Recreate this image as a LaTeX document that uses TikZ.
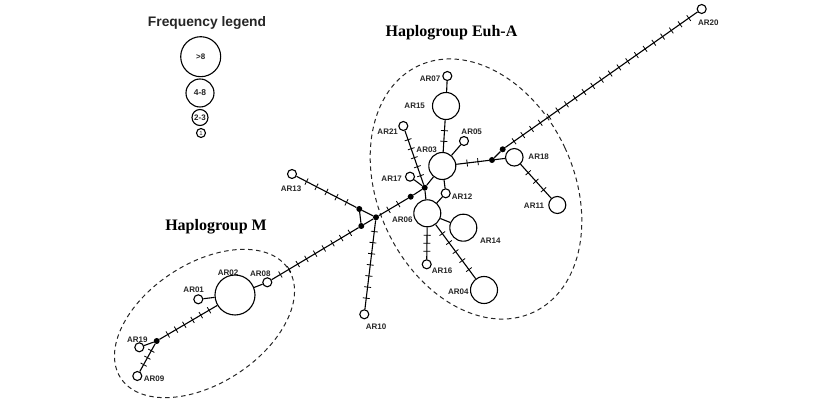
\documentclass[tikz,border=0pt]{standalone}
\usepackage{fontspec}
\setmainfont{Liberation Serif}
\newfontfamily\arialfont{Liberation Sans}
\usetikzlibrary{decorations.markings}

\tikzset{
  hap/.style={circle, draw, line width=1.1pt, fill=white, inner sep=0pt, minimum size=#1},
  hap/.default=9pt,
  mv/.style={circle, fill=black, inner sep=0pt, minimum size=6pt},
  lab/.style={font=\arialfont\bfseries\fontsize{8}{9}\selectfont, text=black!85, inner sep=0pt},
  link/.style={line width=1.1pt},
  mut/.style={postaction={decorate, decoration={markings,
      mark=between positions 1/(#1+1) and #1/(#1+1)+0.001 step 1/(#1+1)
      with {\draw[line width=0.8pt] (0,-3.5pt) -- (0,3.5pt);}}}},
  grp/.style={dash pattern=on 4.5pt off 3.5pt, line width=1pt, black!85},
}

\begin{document}
\begin{tikzpicture}[x=1pt, y=-1pt]
\useasboundingbox (0,0) rectangle (820,411);

% groups
\draw[grp, rotate around={25:(476,189)}] (476,189) ellipse [x radius=98, y radius=136];
\draw[grp, rotate around={33:(204.5,323.5)}] (204.5,323.5) ellipse [x radius=100, y radius=60];
\node[font=\bfseries\fontsize{16}{18}\selectfont] (titleA) at (451.5,33) {Haplogroup Euh-A};
\node[font=\bfseries\fontsize{16}{18}\selectfont] (titleM) at (216,227) {Haplogroup M};

% Frequency legend
\node[font=\arialfont\bfseries\fontsize{13.8}{16}\selectfont, text=black!85] (legtitle) at (207,23) {Frequency legend};
\node[hap=40pt, lab, font=\arialfont\bfseries\fontsize{8}{9}\selectfont] (leg1) at (200.7,56.7) {>8};
\node[hap=28pt, lab, font=\arialfont\bfseries\fontsize{8.5}{9}\selectfont] (leg2) at (200,93) {4-8};
\node[hap=16pt, lab, font=\arialfont\bfseries\fontsize{8}{9}\selectfont] (leg3) at (200,117.5) {2-3};
\node[hap=9pt, lab, font=\arialfont\fontsize{6}{6}\selectfont] (leg4) at (201,133) {1};

% haplotypes
\node[hap] (ar01) at (198.3,299.3) {};
\node[hap=40pt] (ar02) at (235,295) {};
\node[hap=27pt] (ar03) at (442.3,166) {};
\node[hap=27pt] (ar04) at (484,290) {};
\node[hap] (ar05) at (464,141) {};
\node[hap=27pt] (ar06) at (427.3,213.3) {};
\node[hap] (ar07) at (447.3,76) {};
\node[hap] (ar08) at (267.3,282.3) {};
\node[hap] (ar09) at (137.3,376) {};
\node[hap] (ar10) at (364.3,314.3) {};
\node[hap=17pt] (ar11) at (557.3,205) {};
\node[hap] (ar12) at (445.7,193.3) {};
\node[hap] (ar13) at (292,174) {};
\node[hap=27pt] (ar14) at (463.3,227.7) {};
\node[hap=27pt] (ar15) at (446,106) {};
\node[hap] (ar16) at (426.7,264.3) {};
\node[hap] (ar17) at (410,176.7) {};
\node[hap=17.5pt] (ar18) at (514.3,157.3) {};
\node[hap] (ar19) at (139.3,347.3) {};
\node[hap] (ar20) at (701.7,9) {};
\node[hap] (ar21) at (403.3,126) {};

% median vectors
\node[mv] (mv1) at (156.7,341) {};
\node[mv] (mv2) at (359.3,209) {};
\node[mv] (mv3) at (361.3,226) {};
\node[mv] (mv4) at (376,217.3) {};
\node[mv] (mv5) at (410.7,196.7) {};
\node[mv] (mv6) at (424.7,187.7) {};
\node[mv] (mv7) at (492,160) {};
\node[mv] (mv8) at (502.7,149.3) {};

% labels
\node[lab] (l01) at (193.7,290) {AR01};
\node[lab] (l02) at (228,273) {AR02};
\node[lab] (l03) at (426.7,149.3) {AR03};
\node[lab] (l04) at (458.3,291.7) {AR04};
\node[lab] (l05) at (471.7,131.7) {AR05};
\node[lab] (l06) at (402.3,219.3) {AR06};
\node[lab] (l07) at (430,78.7) {AR07};
\node[lab] (l08) at (260.3,274) {AR08};
\node[lab] (l09) at (154,378.3) {AR09};
\node[lab] (l10) at (376,326.7) {AR10};
\node[lab] (l11) at (534,205.7) {AR11};
\node[lab] (l12) at (462,196.7) {AR12};
\node[lab] (l13) at (291,189) {AR13};
\node[lab] (l14) at (490.3,241) {AR14};
\node[lab] (l15) at (414.7,106) {AR15};
\node[lab] (l16) at (442,270.7) {AR16};
\node[lab] (l17) at (391.7,178.3) {AR17};
\node[lab] (l18) at (538.7,156.7) {AR18};
\node[lab] (l19) at (137.3,339.3) {AR19};
\node[lab] (l20) at (708.3,22.7) {AR20};
\node[lab] (l21) at (387.7,131.7) {AR21};

% links, mutations as ticks
\draw[link] (ar07) -- (ar15);
\draw[link, mut=2] (ar15) -- (ar03);
\draw[link] (ar05) -- (ar03);
\draw[link, mut=5] (ar21) -- (mv6);
\draw[link] (ar17) -- (mv6);
\draw[link] (ar03) -- (mv6);
\draw[link] (mv6) -- (ar06);
\draw[link] (mv6) -- (mv5);
\draw[link, mut=2] (mv5) -- (mv4);
\draw[link] (ar03) -- (ar12);
\draw[link] (ar12) -- (ar06);
\draw[link] (ar06) -- (ar14);
\draw[link, mut=3] (ar06) -- (ar16);
\draw[link, mut=5] (ar06) -- (ar04);
\draw[link, mut=2] (ar03) -- (mv7);
\draw[link] (mv7) -- (ar18);
\draw[link] (mv7) -- (mv8);
\draw[link, mut=21] (mv8) -- (ar20);
\draw[link, mut=3] (ar18) -- (ar11);
\draw[link] (mv4) -- (mv2);
\draw[link] (mv4) -- (mv3);
\draw[link] (mv2) -- (mv3);
\draw[link, mut=7] (mv4) -- (ar10);
\draw[link, mut=5] (mv2) -- (ar13);
\draw[link, mut=9] (mv3) -- (ar08);
\draw[link] (ar08) -- (ar02);
\draw[link] (ar01) -- (ar02);
\draw[link, mut=6] (ar02) -- (mv1);
\draw[link] (mv1) -- (ar19);
\draw[link, mut=3] (mv1) -- (ar09);
\end{tikzpicture}
\end{document}
